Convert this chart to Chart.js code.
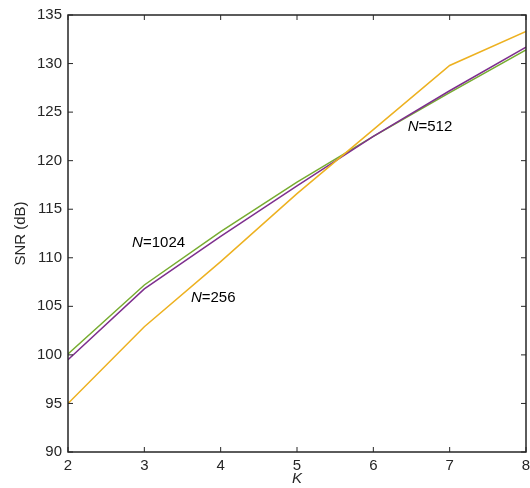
<!DOCTYPE html>
<html>
<head>
<meta charset="utf-8">
<script src="https://cdn.jsdelivr.net/npm/chart.js@4"></script>
<style>
  html, body { margin: 0; padding: 0; background: #fff; }
  #wrap { width: 530px; height: 488px; }
</style>
</head>
<body>
<div id="wrap"><canvas id="snrChart" width="530" height="488"></canvas></div>
<script>
// K values (x axis)
const kValues = [2, 3, 4, 5, 6, 7, 8];
// SNR (dB) for each N
const snr256 = [95.0, 102.9, 109.6, 116.6, 123.2, 129.8, 133.3];
const snr512 = [99.5, 106.8, 112.2, 117.4, 122.5, 127.2, 131.7];
const snr1024 = [100.1, 107.2, 112.7, 117.8, 122.5, 127.0, 131.4];
const xTicks = [2, 3, 4, 5, 6, 7, 8];
const yTicks = [90, 95, 100, 105, 110, 115, 120, 125, 130, 135];

const FONT = "'Liberation Sans', Arial, sans-serif";

function toPoints(ys) {
  return kValues.map((k, i) => ({ x: k, y: ys[i] }));
}

// curve labels, placed in data coordinates
const curveLabels = [
  { n: '1024', x: 2.84, y: 111.5 },
  { n: '256', x: 3.61, y: 105.9 },
  { n: '512', x: 6.45, y: 123.5 }
];

const boxPlugin = {
  id: 'box',
  afterDraw(chart) {
    const ctx = chart.ctx;
    const a = chart.chartArea;
    const xs = chart.scales.x, ys = chart.scales.y;
    ctx.save();
    ctx.strokeStyle = '#262626';
    ctx.lineWidth = 1.5;
    ctx.strokeRect(a.left, a.top, a.right - a.left, a.bottom - a.top);
    ctx.lineWidth = 1;
    ctx.beginPath();
    xTicks.forEach(v => {
      const px = xs.getPixelForValue(v);
      ctx.moveTo(px, a.bottom); ctx.lineTo(px, a.bottom - 5);
      ctx.moveTo(px, a.top); ctx.lineTo(px, a.top + 5);
    });
    yTicks.forEach(v => {
      const py = ys.getPixelForValue(v);
      ctx.moveTo(a.left, py); ctx.lineTo(a.left + 5, py);
      ctx.moveTo(a.right, py); ctx.lineTo(a.right - 5, py);
    });
    ctx.stroke();

    // N=... labels
    ctx.fillStyle = '#000';
    ctx.textBaseline = 'middle';
    curveLabels.forEach(l => {
      let px = xs.getPixelForValue(l.x);
      const py = ys.getPixelForValue(l.y);
      ctx.font = 'italic 15px ' + FONT;
      ctx.fillText('N', px, py);
      px += ctx.measureText('N').width;
      ctx.font = '15px ' + FONT;
      ctx.fillText('=' + l.n, px, py);
    });
    ctx.restore();
  }
};

new Chart(document.getElementById('snrChart'), {
  type: 'line',
  data: {
    datasets: [
      { label: 'N=256', data: toPoints(snr256), borderColor: '#EDB120' },
      { label: 'N=512', data: toPoints(snr512), borderColor: '#7E2F8E' },
      { label: 'N=1024', data: toPoints(snr1024), borderColor: '#77AC30' }
    ]
  },
  options: {
    responsive: false,
    animation: false,
    layout: { padding: { top: 14, right: 4, left: 0, bottom: 0 } },
    elements: {
      line: { borderWidth: 1.5, tension: 0, fill: false },
      point: { radius: 0 }
    },
    plugins: {
      legend: { display: false },
      tooltip: { enabled: false }
    },
    scales: {
      x: {
        type: 'linear',
        min: 2, max: 8,
        afterBuildTicks: s => { s.ticks = xTicks.map(v => ({ value: v })); },
        afterFit: s => { s.height = 36; s.paddingRight = 0; s.paddingLeft = 0; },
        grid: { display: false, drawTicks: false },
        border: { display: false },
        ticks: { color: '#262626', font: { family: FONT, size: 15 }, padding: 5, maxRotation: 0 },
        title: {
          display: true, text: 'K', color: '#262626',
          font: { family: FONT, size: 15, style: 'italic' }, padding: { top: -4, bottom: 0 }
        }
      },
      y: {
        min: 90, max: 135,
        afterBuildTicks: s => { s.ticks = yTicks.map(v => ({ value: v })); },
        afterFit: s => { s.width = 68; },
        grid: { display: false, drawTicks: false },
        border: { display: false },
        ticks: { color: '#262626', font: { family: FONT, size: 15 }, padding: 6 },
        title: {
          display: true, text: 'SNR (dB)', color: '#262626',
          font: { family: FONT, size: 15 }, padding: { top: 12, bottom: 0 }
        }
      }
    }
  },
  plugins: [boxPlugin]
});
</script>
</body>
</html>
